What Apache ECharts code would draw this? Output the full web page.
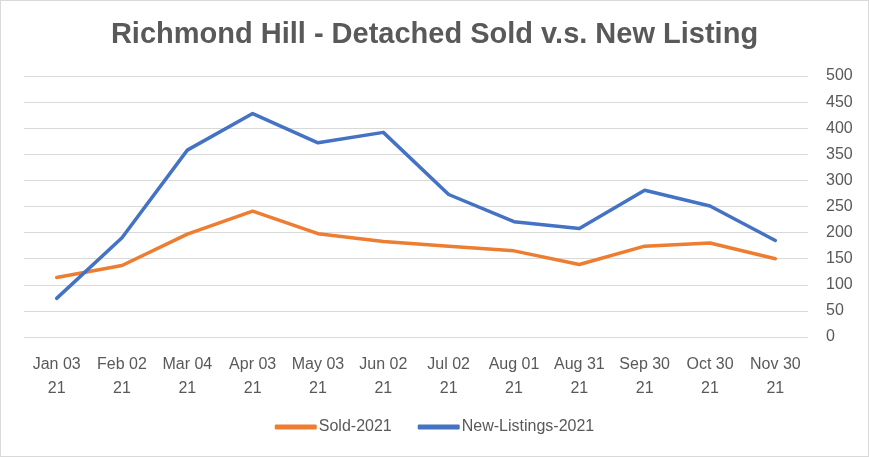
<!DOCTYPE html>
<html>
<head>
<meta charset="utf-8">
<script src="https://cdn.jsdelivr.net/npm/echarts@6/dist/echarts.min.js"></script>
<style>
html,body{margin:0;padding:0;background:#fff;}
#c{width:867px;height:455px;border:1px solid #d9d9d9;}
</style>
</head>
<body>
<div id="c"></div>
<script>
const categories = ["Jan 03\n21","Feb 02\n21","Mar 04\n21","Apr 03\n21","May 03\n21","Jun 02\n21","Jul 02\n21","Aug 01\n21","Aug 31\n21","Sep 30\n21","Oct 30\n21","Nov 30\n21"];
const sold2021 = [114,137,197,241,198,183,174,165,139,174,180,150];
const newListings2021 = [74,190,358,428,372,392,273,221,208,281,251,185];
const yTicks = {min:0,max:500,interval:50};

const chart = echarts.init(document.getElementById('c'));
chart.setOption({
  animation:false,
  title:{text:'Richmond Hill - Detached Sold v.s. New Listing',left:'center',top:14,
    textStyle:{fontFamily:'Liberation Sans, Arial',fontWeight:'bold',fontSize:29,color:'#595959'}},
  legend:{bottom:16,left:'center',itemWidth:42,itemHeight:5,itemGap:26,icon:'roundRect',
    textStyle:{fontFamily:'Liberation Sans, Arial',fontSize:16,color:'#595959',padding:[0,0,0,-3]},
    data:['Sold-2021','New-Listings-2021']},
  grid:{left:23,right:60,top:75,bottom:119,containLabel:false},
  xAxis:{type:'category',data:categories,boundaryGap:true,
    axisLine:{show:false},axisTick:{show:false},
    axisLabel:{interval:0,margin:16,lineHeight:24,fontFamily:'Liberation Sans, Arial',fontSize:16,color:'#595959'}},
  yAxis:{type:'value',position:'right',min:yTicks.min,max:yTicks.max,interval:yTicks.interval,
    axisLine:{show:false},axisTick:{show:false},
    splitLine:{lineStyle:{color:'#d9d9d9',width:1}},
    axisLabel:{margin:18,align:'left',fontFamily:'Liberation Sans, Arial',fontSize:16,color:'#595959'}},
  series:[
    {name:'Sold-2021',type:'line',data:sold2021,showSymbol:false,symbol:'none',
      lineStyle:{color:'#ED7D31',width:3.5,cap:'round',join:'round'},itemStyle:{color:'#ED7D31'}},
    {name:'New-Listings-2021',type:'line',data:newListings2021,showSymbol:false,symbol:'none',
      lineStyle:{color:'#4472C4',width:3.5,cap:'round',join:'round'},itemStyle:{color:'#4472C4'}}
  ]
});
</script>
</body>
</html>
